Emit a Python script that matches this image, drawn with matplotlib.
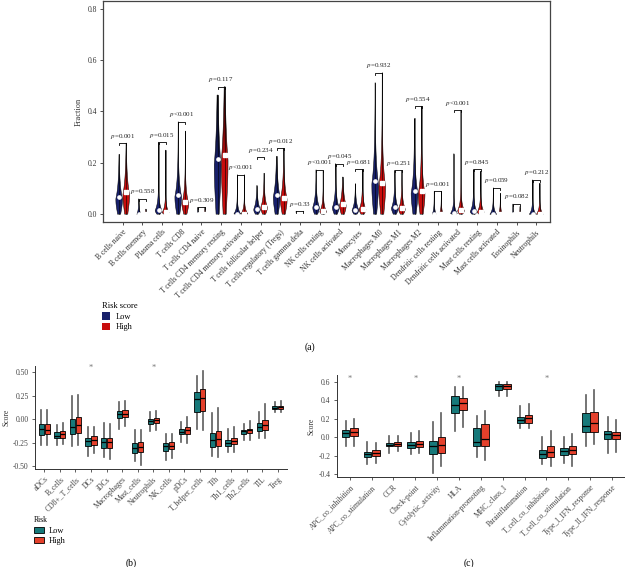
import numpy as np
import matplotlib
matplotlib.use("Agg")
import matplotlib.pyplot as plt
from matplotlib.colors import LinearSegmentedColormap
from matplotlib.patches import Patch, Polygon

plt.rcParams['font.family'] = ['Liberation Serif', 'DejaVu Serif']
plt.rcParams['mathtext.fontset'] = 'stix'

# ---------------- panel (a): CIBERSORT fractions ----------------
cells = ["B cells naive", "B cells memory", "Plasma cells", "T cells CD8",
         "T cells CD4 naive", "T cells CD4 memory resting",
         "T cells CD4 memory activated", "T cells follicular helper",
         "T cells regulatory (Tregs)", "T cells gamma delta",
         "NK cells resting", "NK cells activated", "Monocytes",
         "Macrophages M0", "Macrophages M1", "Macrophages M2",
         "Dendritic cells resting", "Dendritic cells activated",
         "Mast cells resting", "Mast cells activated", "Eosinophils",
         "Neutrophils"]
low_max = [0.233, 0.060, 0.281, 0.360, 0.027, 0.464, 0.154, 0.112, 0.225,
           0.012, 0.173, 0.197, 0.119, 0.512, 0.171, 0.373, 0.090, 0.236,
           0.175, 0.103, 0.040, 0.134]
high_max = [0.277, 0.020, 0.250, 0.324, 0.027, 0.496, 0.154, 0.160, 0.257,
            0.012, 0.170, 0.145, 0.175, 0.551, 0.171, 0.421, 0.090, 0.405,
            0.168, 0.082, 0.030, 0.121]
low_med = [0.066, 0.0, 0.017, 0.076, 0.0, 0.216, 0.002, 0.021, 0.076, 0.0,
           0.030, 0.030, 0.018, 0.130, 0.027, 0.092, 0.0, 0.004, 0.012, 0.0,
           0.0, 0.0]
high_med = [0.085, 0.0, 0.008, 0.048, 0.0, 0.232, 0.002, 0.030, 0.065, 0.0,
            0.012, 0.039, 0.021, 0.120, 0.023, 0.089, 0.0, 0.016, 0.010, 0.0,
            0.0, 0.0]
bracket_y = [0.277, 0.060, 0.281, 0.360, 0.028, 0.496, 0.154, 0.222, 0.257,
             0.012, 0.173, 0.197, 0.175, 0.551, 0.171, 0.421, 0.090, 0.405,
             0.175, 0.103, 0.040, 0.134]
p_text = ["=0.001", "=0.558", "=0.015", "<0.001", "=0.309", "=0.117",
          "<0.001", "=0.234", "=0.012", "=0.33", "<0.001", "=0.045",
          "=0.681", "=0.932", "=0.251", "=0.554", "=0.001", "<0.001",
          "=0.845", "=0.059", "=0.082", "=0.212"]

# ---------------- panel (b): immune cell ssGSEA ----------------
cells_b = ["aDCs", "B_cells", "CD8+_T_cells", "DCs", "iDCs", "Macrophages",
           "Mast_cells", "Neutrophils", "NK_cells", "pDCs", "T_helper_cells",
           "Tfh", "Th1_cells", "Th2_cells", "TIL", "Treg"]
b_low_med = [-0.10, -0.18, -0.081, -0.233, -0.24, 0.056, -0.308, -0.018,
             -0.283, -0.134, 0.211, -0.218, -0.251, -0.124, -0.081, 0.124]
b_low_q1 = [-0.165, -0.205, -0.159, -0.286, -0.311, 0.011, -0.357, -0.046,
            -0.339, -0.159, 0.074, -0.296, -0.283, -0.152, -0.124, 0.113]
b_low_q3 = [-0.053, -0.134, 0.007, -0.195, -0.195, 0.092, -0.251, 0.007,
            -0.251, -0.099, 0.292, -0.148, -0.216, -0.110, -0.039, 0.140]
b_low_lo = [-0.276, -0.276, -0.286, -0.390, -0.400, -0.100, -0.450, -0.124,
            -0.435, -0.240, -0.100, -0.390, -0.346, -0.216, -0.195, 0.078]
b_low_hi = [0.103, -0.057, 0.244, -0.081, -0.039, 0.180, -0.110, 0.078,
            -0.152, -0.028, 0.458, 0.063, -0.099, -0.046, 0.078, 0.184]
b_high_med = [-0.11, -0.152, -0.064, -0.225, -0.24, 0.056, -0.293, -0.011,
              -0.280, -0.117, 0.222, -0.211, -0.233, -0.117, -0.064, 0.130]
b_high_q1 = [-0.159, -0.198, -0.145, -0.276, -0.311, 0.021, -0.346, -0.039,
             -0.322, -0.152, 0.088, -0.289, -0.269, -0.145, -0.117, 0.113]
b_high_q3 = [-0.046, -0.124, 0.025, -0.180, -0.195, 0.099, -0.244, 0.014,
             -0.244, -0.081, 0.317, -0.120, -0.195, -0.099, -0.004, 0.140]
b_high_lo = [-0.276, -0.269, -0.276, -0.357, -0.428, -0.077, -0.488, -0.117,
             -0.417, -0.251, -0.113, -0.400, -0.346, -0.216, -0.205, 0.078]
b_high_hi = [0.095, -0.039, 0.262, -0.081, -0.046, 0.194, -0.110, 0.088,
             -0.152, 0.025, 0.514, 0.123, -0.081, -0.018, 0.166, 0.190]
b_star = ["DCs", "Neutrophils"]

# ---------------- panel (c): immune functions ----------------
funcs_c = ["APC_co_inhibition", "APC_co_stimulation", "CCR", "Check-point",
           "Cytolytic_activity", "HLA", "Inflammation-promoting",
           "MHC_class_I", "Parainflammation", "T_cell_co_inhibition",
           "T_cell_co_stimulation", "Type_I_IFN_response",
           "Type_II_IFN_response"]
c_low_med = [0.044, -0.180, -0.084, -0.084, -0.100, 0.353, -0.047, 0.553,
             0.189, -0.180, -0.149, 0.124, 0.036]
c_low_q1 = [0.000, -0.211, -0.100, -0.120, -0.180, 0.269, -0.100, 0.516,
            0.153, -0.229, -0.193, 0.062, -0.022]
c_low_q3 = [0.080, -0.156, -0.058, -0.047, -0.036, 0.444, 0.098, 0.575,
            0.218, -0.138, -0.120, 0.262, 0.073]
c_low_lo = [-0.100, -0.290, -0.175, -0.180, -0.390, 0.073, -0.218, 0.444,
            0.098, -0.290, -0.284, -0.100, -0.167]
c_low_hi = [0.180, -0.047, 0.015, 0.044, 0.171, 0.545, 0.233, 0.596,
            0.345, 0.000, 0.000, 0.462, 0.218]
c_high_med = [0.062, -0.167, -0.076, -0.073, -0.084, 0.378, -0.022, 0.560,
              0.207, -0.156, -0.138, 0.153, 0.025]
c_high_q1 = [0.015, -0.204, -0.100, -0.109, -0.167, 0.298, -0.095, 0.520,
             0.160, -0.211, -0.180, 0.062, -0.022]
c_high_q3 = [0.098, -0.138, -0.055, -0.036, 0.000, 0.425, 0.145, 0.582,
             0.244, -0.100, -0.100, 0.280, 0.062]
c_high_lo = [-0.095, -0.284, -0.149, -0.175, -0.313, 0.116, -0.247, 0.451,
             0.098, -0.313, -0.313, -0.073, -0.156]
c_high_hi = [0.196, -0.058, 0.015, 0.069, 0.262, 0.545, 0.290, 0.596,
             0.360, 0.073, 0.036, 0.516, 0.189]
c_star = ["APC_co_inhibition", "Check-point", "HLA", "T_cell_co_inhibition"]

LOW_A, HIGH_A = "#18206b", "#c80d0d"
LOW_B, HIGH_B = "#17797a", "#e4402b"
W, H = 625, 567

fig = plt.figure(figsize=(W / 100, H / 100), dpi=100)


def fig_rect(x0, y0, x1, y1):
    return [x0 / W, 1 - y1 / H, (x1 - x0) / W, (y1 - y0) / H]


def half_width(y, med, w):
    mode = med * 0.9
    tau = 0.6 * med + 0.018
    below = np.exp(-0.5 * ((y - mode) / (0.8 * mode + 1e-6)) ** 2)
    above = np.exp(-(y - mode) / tau)
    return w * np.where(y < mode, below, above)


def draw_violin(ax, x, top, med, color, marker):
    w = 0.17 if top > 0.1 else 0.1
    if top < 0.05:
        w = 0.03
    ys = np.linspace(0, top, 200)
    hw = half_width(ys, med, w)
    verts = np.concatenate([np.column_stack([x - hw, ys]),
                            np.column_stack([x + hw, ys])[::-1]])
    poly = Polygon(verts, closed=True, facecolor="none",
                   edgecolor="black", lw=0.35, zorder=3)
    ax.add_patch(poly)
    cmap = LinearSegmentedColormap.from_list(
        "g", [(0, color), (0.4, color), (1, "black")])
    grad = np.linspace(0, 1, 100).reshape(-1, 1)
    im = ax.imshow(grad, cmap=cmap, extent=(x - w, x + w, 0, top),
                   origin="lower", aspect="auto", zorder=2)
    im.set_clip_path(poly)
    ax.plot([x, x], [0, top], color="black", lw=0.4, zorder=3)
    ax.plot(x, med, marker=marker, ms=2.3, color="white",
            mec="white", zorder=4)


# ----- (a) -----
ax = fig.add_axes(fig_rect(103, 1, 550, 222))
xa = np.arange(len(cells))
dx = 0.18
for i in xa:
    draw_violin(ax, i - dx, low_max[i], low_med[i], LOW_A, "o")
    draw_violin(ax, i + dx, high_max[i], high_med[i], HIGH_A, "s")
    b = bracket_y[i]
    ax.plot([i - dx, i - dx, i + dx, i + dx], [b - 0.008, b, b, b - 0.008],
            color="black", lw=0.6, zorder=5)
    ax.text(i, b + 0.01, "$p$" + p_text[i], ha="center", va="bottom",
            fontsize=5, color="#222")
ax.set_xlim(-1.0, 21.7)
ax.set_ylim(-0.03, 0.83)
ax.set_yticks([0.0, 0.2, 0.4, 0.6, 0.8])
ax.set_yticklabels(["0.0", "0.2", "0.4", "0.6", "0.8"])
ax.set_xticks(xa)
ax.set_xticklabels(cells, rotation=45, ha="right", rotation_mode="anchor")
ax.tick_params(labelsize=5.5, colors="#333", length=2.5, width=0.6, pad=2)
ax.set_ylabel("Fraction", fontsize=6, color="#333", labelpad=3)
for s in ax.spines.values():
    s.set_color("#444")
    s.set_linewidth(0.9)

fig.legend(handles=[Patch(facecolor=LOW_A), Patch(facecolor=HIGH_A)],
           labels=["Low", "High"], title="Risk score", loc="upper left",
           bbox_to_anchor=(102 / W, 1 - 302 / H), frameon=False,
           fontsize=6, title_fontsize=6, alignment="left",
           handlelength=1.0, handleheight=1.0, borderpad=0,
           borderaxespad=0, labelspacing=0.25, handletextpad=0.6)


# ----- boxplot panels -----
def box_panel(rect, names, lo_stats, hi_stats, ylim, yticks, ylabels, stars,
              star_y):
    ax = fig.add_axes(rect)
    pos = np.arange(1, len(names) + 1)
    for stats, off, col in [(lo_stats, -0.19, LOW_B), (hi_stats, 0.19, HIGH_B)]:
        med, q1, q3, wlo, whi = stats
        bx = [dict(med=med[k], q1=q1[k], q3=q3[k], whislo=wlo[k],
                   whishi=whi[k], fliers=[]) for k in range(len(names))]
        ax.bxp(bx, positions=pos + off, widths=0.34, patch_artist=True,
               showfliers=False, showcaps=False,
               boxprops=dict(facecolor=col, edgecolor="black", lw=0.6,
                             zorder=2),
               medianprops=dict(color="black", lw=0.9, zorder=3),
               whiskerprops=dict(color="#5c5c5c", lw=1.2, zorder=1))
    for s in stars:
        ax.text(names.index(s) + 1, star_y, "*", ha="center", va="center",
                fontsize=6, color="#777")
    ax.set_xlim(0.4, len(names) + 0.6)
    ax.set_ylim(*ylim)
    ax.set_yticks(yticks)
    ax.set_yticklabels(ylabels)
    ax.set_xticks(pos)
    ax.set_xticklabels(names, rotation=45, ha="right", rotation_mode="anchor")
    ax.tick_params(labelsize=5.5, colors="#444", length=2.5, width=0.6, pad=2)
    ax.set_ylabel("Score", fontsize=5.5, color="#333", labelpad=2)
    for s in ["top", "right"]:
        ax.spines[s].set_visible(False)
    for s in ["left", "bottom"]:
        ax.spines[s].set_color("#333")
        ax.spines[s].set_linewidth(0.7)
    return ax


box_panel(fig_rect(35, 366, 287, 469), cells_b,
          (b_low_med, b_low_q1, b_low_q3, b_low_lo, b_low_hi),
          (b_high_med, b_high_q1, b_high_q3, b_high_lo, b_high_hi),
          (-0.53, 0.567), [-0.5, -0.25, 0.0, 0.25, 0.5],
          ["-0.50", "-0.25", "0.00", "0.25", "0.50"], b_star, 0.55)

box_panel(fig_rect(336.7, 375, 625, 477.3), funcs_c,
          (c_low_med, c_low_q1, c_low_q3, c_low_lo, c_low_hi),
          (c_high_med, c_high_q1, c_high_q3, c_high_lo, c_high_hi),
          (-0.435, 0.677), [-0.4, -0.2, 0.0, 0.2, 0.4, 0.6],
          ["-0.4", "-0.2", "0.0", "0.2", "0.4", "0.6"], c_star, 0.63)

fig.legend(handles=[Patch(facecolor=LOW_B, edgecolor="black", lw=0.6),
                    Patch(facecolor=HIGH_B, edgecolor="black", lw=0.6)],
           labels=["Low", "High"], title="Risk", loc="upper left",
           bbox_to_anchor=(34 / W, 1 - 516 / H), frameon=False,
           fontsize=6, title_fontsize=5.5, alignment="left",
           handlelength=1.2, handleheight=0.8, borderpad=0,
           borderaxespad=0, labelspacing=0.3, handletextpad=0.6)

fig.text(310 / W, 1 - 347 / H, "(a)", ha="center", va="center", fontsize=7)
fig.text(131 / W, 1 - 563 / H, "(b)", ha="center", va="center", fontsize=7)
fig.text(469 / W, 1 - 563 / H, "(c)", ha="center", va="center", fontsize=7)

fig.savefig("out.png", dpi=100)
